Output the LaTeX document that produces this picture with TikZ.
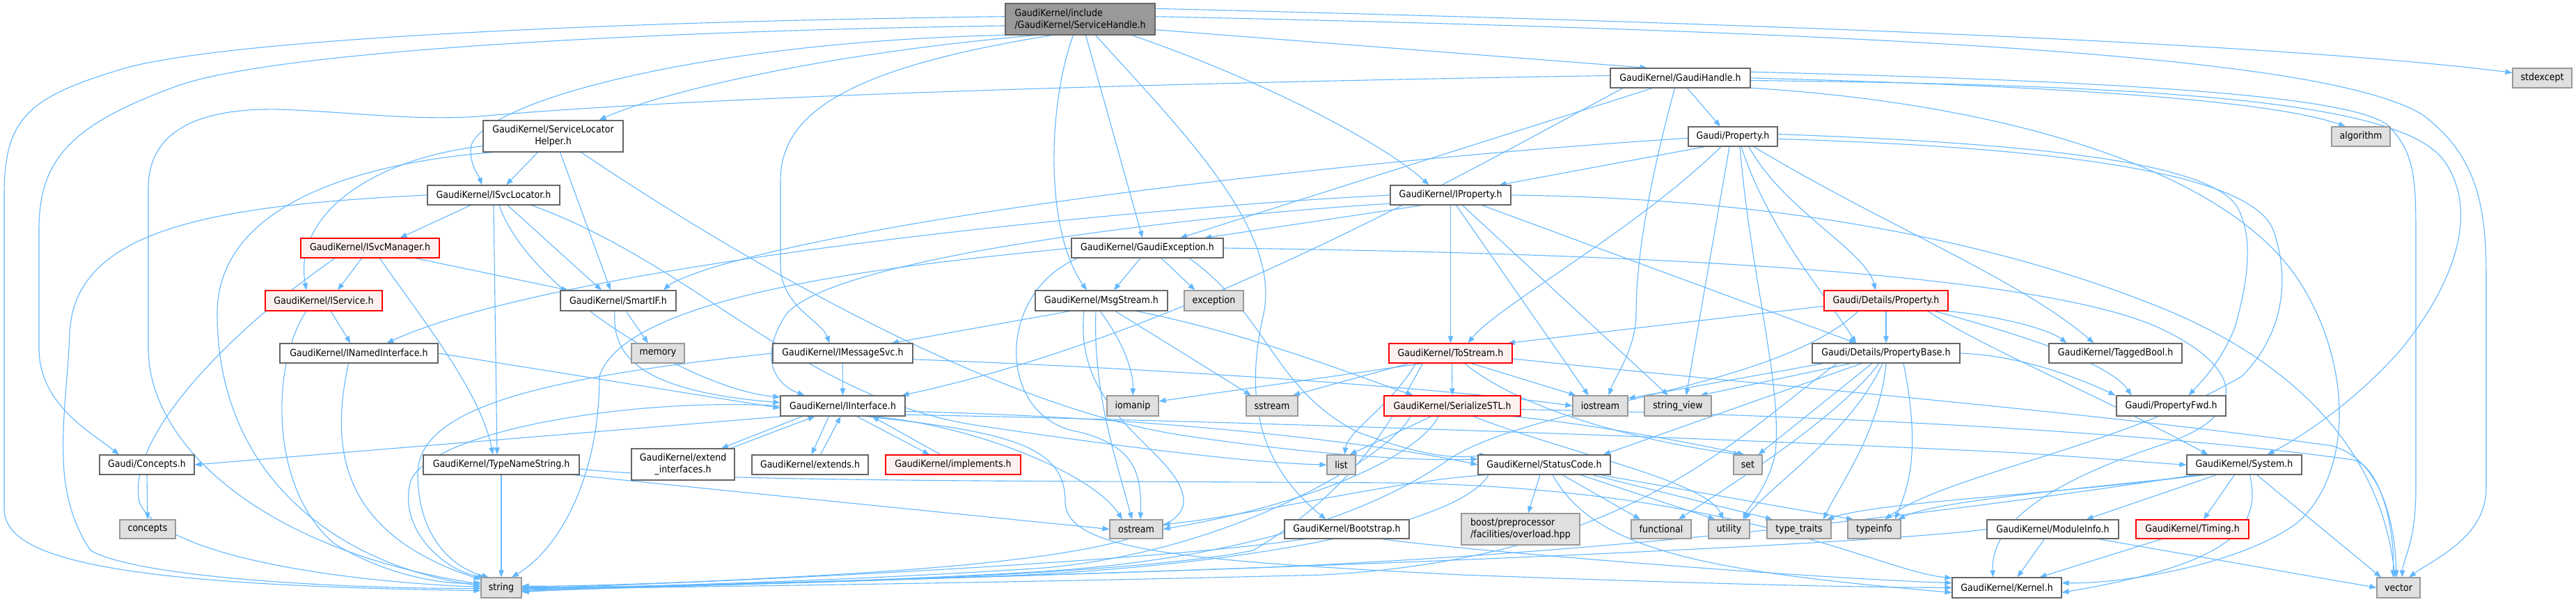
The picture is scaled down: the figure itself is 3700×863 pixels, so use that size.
\documentclass[tikz,border=0pt]{standalone}
\usepackage{fontspec}
\setmainfont{DejaVu Sans}[FakeStretch=0.9]
\usetikzlibrary{arrows.meta}
\definecolor{ecol}{HTML}{63B8FF}
\definecolor{nbord}{HTML}{666666}
\definecolor{xbord}{HTML}{999999}
\definecolor{xfill}{HTML}{E0E0E0}
\definecolor{rfill}{HTML}{FFF0F0}
\definecolor{topfill}{HTML}{999999}
\pgfdeclarelayer{bg}
\pgfsetlayers{bg,main}
\newcommand\gnode[7]{\node[#6, minimum width=#4pt, minimum height=#5pt] (#1) at (#2,#3) {#7};}
\begin{document}
\begin{tikzpicture}[x=1pt,y=-1pt,
  base/.style={inner sep=0pt, line width=1.1pt, font=\fontsize{14}{17}\selectfont, text=black},
  nrm/.style={base, draw=nbord, fill=white},
  ext/.style={base, draw=xbord, fill=xfill},
  red/.style={base, draw=red, fill=rfill},
  topn/.style={base, draw=nbord, fill=topfill},
  lnk/.style={draw=ecol, line width=1.1pt, -{Triangle[length=10pt,width=7.5pt]}}]
\useasboundingbox (0,0) rectangle (3700,863);
% ---------- nodes
\gnode{sh}{1551.5}{27.5}{215}{45}{topn,align=left}{GaudiKernel/include\\/GaudiKernel/ServiceHandle.h}
\gnode{gh}{2413.5}{112}{201}{28}{nrm}{GaudiKernel/GaudiHandle.h}
\gnode{stdexcept}{3651.5}{112}{85}{28}{ext}{stdexcept}
\gnode{slh}{794.5}{195.5}{201}{45}{nrm,align=center}{GaudiKernel/ServiceLocator\\Helper.h}
\gnode{prop}{2489}{196}{128}{28}{nrm}{Gaudi/Property.h}
\gnode{algorithm}{3391}{196}{84}{28}{ext}{algorithm}
\gnode{isl}{709}{280}{190}{28}{nrm}{GaudiKernel/ISvcLocator.h}
\gnode{iprop}{2083.5}{280}{173}{28}{nrm}{GaudiKernel/IProperty.h}
\gnode{ism}{531.5}{356}{199}{28}{red}{GaudiKernel/ISvcManager.h}
\gnode{gex}{1648}{356}{218}{28}{nrm}{GaudiKernel/GaudiException.h}
\gnode{isvc}{465}{431.5}{168}{29}{red}{GaudiKernel/IService.h}
\gnode{smartif}{888}{431.5}{166}{29}{nrm}{GaudiKernel/SmartIF.h}
\gnode{msg}{1582}{431.5}{190}{29}{nrm}{GaudiKernel/MsgStream.h}
\gnode{exception}{1743.5}{431.5}{85}{29}{ext}{exception}
\gnode{dprop}{2709}{431.5}{178}{29}{red}{Gaudi/Details/Property.h}
\gnode{nif}{515.5}{507}{227}{28}{nrm}{GaudiKernel/INamedInterface.h}
\gnode{memory}{945}{507}{76}{28}{ext}{memory}
\gnode{imsg}{1210.5}{507}{201}{28}{nrm}{GaudiKernel/IMessageSvc.h}
\gnode{tostream}{2083.5}{507}{177}{28}{red}{GaudiKernel/ToStream.h}
\gnode{pbase}{2709}{507}{212}{28}{nrm}{Gaudi/Details/PropertyBase.h}
\gnode{tagged}{3038.5}{507}{191}{28}{nrm}{GaudiKernel/TaggedBool.h}
\gnode{iif}{1210.5}{582.5}{179}{29}{nrm}{GaudiKernel/IInterface.h}
\gnode{iomanip}{1627}{582.5}{74}{29}{ext}{iomanip}
\gnode{sstream}{1827}{582.5}{74}{29}{ext}{sstream}
\gnode{sstl}{2086}{582.5}{196}{29}{red}{GaudiKernel/SerializeSTL.h}
\gnode{iostream}{2298.5}{582.5}{79}{29}{ext}{iostream}
\gnode{strview}{2410}{582.5}{96}{29}{ext}{string\_view}
\gnode{pfwd}{3118.5}{582.5}{157}{29}{nrm}{Gaudi/PropertyFwd.h}
\gnode{concepts_h}{211}{667}{136}{28}{nrm}{Gaudi/Concepts.h}
\gnode{tns}{720}{667}{224}{28}{nrm}{GaudiKernel/TypeNameString.h}
\gnode{extif}{981}{666.5}{148}{45}{nrm,align=center}{GaudiKernel/extend\\\_interfaces.h}
\gnode{extends}{1163.5}{667}{167}{28}{nrm}{GaudiKernel/extends.h}
\gnode{implements}{1369}{667}{194}{28}{red}{GaudiKernel/implements.h}
\gnode{list}{1926.5}{667}{41}{28}{ext}{list}
\gnode{sc}{2218}{667}{190}{28}{nrm}{GaudiKernel/StatusCode.h}
\gnode{set}{2510.5}{667}{41}{28}{ext}{set}
\gnode{system}{3223.5}{667}{165}{28}{nrm}{GaudiKernel/System.h}
\gnode{concepts}{212}{759.5}{80}{27}{ext}{concepts}
\gnode{ostream}{1632}{759.5}{76}{27}{ext}{ostream}
\gnode{boot}{1934.5}{759.5}{179}{27}{nrm}{GaudiKernel/Bootstrap.h}
\gnode{boost}{2184}{759.5}{170}{45}{ext,align=left}{boost/preprocessor\\/facilities/overload.hpp}
\gnode{functional}{2386}{759.5}{86}{27}{ext}{functional}
\gnode{utility}{2483.5}{759.5}{59}{27}{ext}{utility}
\gnode{typetraits}{2584}{759.5}{92}{27}{ext}{type\_traits}
\gnode{typeinfo}{2692}{759.5}{76}{27}{ext}{typeinfo}
\gnode{modinfo}{2948.5}{759.5}{189}{27}{nrm}{GaudiKernel/ModuleInfo.h}
\gnode{timing}{3149}{759.5}{162}{27}{red}{GaudiKernel/Timing.h}
\gnode{string}{720}{843.5}{58}{29}{ext}{string}
\gnode{kernel}{2882.5}{843.5}{157}{29}{nrm}{GaudiKernel/Kernel.h}
\gnode{vector}{3445}{843.5}{62}{29}{ext}{vector}
% ---------- edges
\begin{pgfonlayer}{bg}
\fill[white] (0,0) rectangle (3700,863);
% ServiceHandle
\draw[lnk] (sh.178) .. controls (800,32) and (300,60) .. (172,100) .. controls (40,140) and (6,170) .. (6,280) -- (6,730) .. controls (6,800) and (150,840) .. (string.188);
\draw[lnk] (sh.185) .. controls (900,45) and (380,75) .. (250,125) .. controls (100,180) and (56,230) .. (56,330) -- (56,500) .. controls (56,580) and (130,620) .. ([xshift=-40pt]concepts_h.north);
\draw[lnk] (sh.192) .. controls (1000,60) and (676,150) .. (676,215) .. controls (676,240) and (688,252) .. ([xshift=-17pt]isl.north);
\draw[lnk] (sh.200) .. controls (1150,80) and (930,140) .. ([xshift=66pt]slh.north);
\draw[lnk] (sh.210) .. controls (1200,100) and (1121,170) .. (1121,260) -- (1121,380) .. controls (1121,440) and (1180,460) .. ([xshift=-19pt]imsg.north);
\draw[lnk] ([xshift=-10pt]sh.south) .. controls (1505,150) and (1500,330) .. ([xshift=-21pt]msg.north);
\draw[lnk] ([xshift=8pt]sh.south) -- ([xshift=-7pt]gex.north);
\draw[lnk] ([xshift=22pt]sh.south) .. controls (1700,190) and (1840,330) .. (1815,450) .. controls (1790,560) and (1800,660) .. ([xshift=-30pt]boot.north);
\draw[lnk] ([xshift=74pt]sh.south) .. controls (1800,110) and (1980,200) .. ([xshift=-31pt]iprop.north);
\draw[lnk] (sh.-8) -- (gh.163);
\draw[lnk] (sh.8) .. controls (2600,35) and (3300,65) .. (stdexcept.170);
\draw[lnk] (sh.2) .. controls (2800,48) and (3350,85) .. (3480,165) .. controls (3560,225) and (3571,300) .. (3571,400) -- (3571,700) .. controls (3571,770) and (3500,800) .. ([xshift=15pt]vector.north);
% GaudiHandle
\draw[lnk] ([xshift=10pt]gh.south) -- ([xshift=-18pt]prop.north);
\draw[lnk] (gh.east) .. controls (2900,122) and (3250,140) .. ([xshift=-22pt]algorithm.north);
\draw[lnk] (gh.178) .. controls (1600,120) and (1000,140) .. (700,166) .. controls (600,175) and (500,160) .. (400,157) .. controls (290,155) and (213,185) .. (213,270) -- (213,500) .. controls (213,640) and (380,790) .. (string.170);
\draw[lnk] ([xshift=-40pt]gh.south) -- ([xshift=47pt]gex.north);
\draw[lnk] (gh.190) .. controls (2100,250) and (1700,480) .. ([xshift=85pt]iif.north);
\draw[lnk] ([xshift=-8pt]gh.south) .. controls (2380,220) and (2350,350) .. (2350,450) .. controls (2350,500) and (2320,540) .. ([xshift=12pt]iostream.north);
\draw[lnk] (gh.5) .. controls (3100,118) and (3380,140) .. (3430,180) .. controls (3470,220) and (3470,260) .. (3470,350) -- (3470,700) .. controls (3470,780) and (3452,800) .. ([xshift=5pt]vector.north);
\draw[lnk] (gh.-2) .. controls (3150,122) and (3450,150) .. (3510,230) .. controls (3560,300) and (3530,400) .. (3450,500) .. controls (3380,580) and (3300,630) .. ([xshift=33pt]system.north);
\draw[lnk] (gh.-8) .. controls (2900,150) and (3200,250) .. (3300,400) .. controls (3380,520) and (3380,680) .. (3300,750) .. controls (3220,810) and (3050,838) .. (kernel.5);
% ServiceLocatorHelper
\draw[lnk] ([xshift=-22pt]slh.south) -- ([xshift=18pt]isl.north);
\draw[lnk] ([xshift=10pt]slh.south) -- ([xshift=-11pt]smartif.north);
\draw[lnk] (slh.188) .. controls (550,225) and (420,300) .. ([xshift=-25pt]isvc.north);
\draw[lnk] (slh.195) .. controls (500,235) and (312,300) .. (312,450) .. controls (312,680) and (480,810) .. (string.175);
\draw[lnk] ([xshift=40pt]slh.south) .. controls (1000,330) and (1400,580) .. (1700,625) .. controls (1900,655) and (2050,662) .. (sc.175);
% Property
\draw[lnk] (prop.200) -- ([xshift=70pt]iprop.north);
\draw[lnk] ([xshift=23pt]prop.south) .. controls (2560,300) and (2680,360) .. ([xshift=-15pt]dprop.north);
\draw[lnk] ([xshift=12pt]prop.south) .. controls (2540,330) and (2620,420) .. ([xshift=-43pt]pbase.north);
\draw[lnk] ([xshift=30pt]prop.south) .. controls (2700,320) and (2900,400) .. ([xshift=-31pt]tagged.north);
\draw[lnk] (prop.3) .. controls (2900,205) and (3180,230) .. (3215,300) .. controls (3240,350) and (3224,420) .. (3210,470) .. controls (3190,520) and (3160,550) .. ([xshift=25pt]pfwd.north);
\draw[lnk] (prop.-3) .. controls (2900,210) and (3230,240) .. (3265,330) .. controls (3290,400) and (3280,480) .. (3220,540) .. controls (3050,640) and (2800,680) .. ([xshift=15pt]typeinfo.north);
\draw[lnk] ([xshift=-17pt]prop.south) .. controls (2350,330) and (2150,440) .. ([xshift=25pt]tostream.north);
\draw[lnk] (prop.182) .. controls (2000,225) and (1300,300) .. (1020,385) .. controls (990,395) and (965,405) .. ([xshift=65pt]smartif.north);
\draw[lnk] ([xshift=-5pt]prop.south) -- ([xshift=12pt]strview.north);
\draw[lnk] ([xshift=10pt]prop.south) .. controls (2515,400) and (2560,550) .. (2550,650) .. controls (2540,700) and (2510,730) .. ([xshift=20pt]utility.north);
% IProperty
\draw[lnk] (iprop.south) -- (tostream.north);
\draw[lnk] ([xshift=8pt]iprop.south) -- ([xshift=-17pt]iostream.north);
\draw[lnk] ([xshift=17pt]iprop.south) -- ([xshift=-14pt]strview.north);
\draw[lnk] ([xshift=45pt]iprop.south) -- ([xshift=-43pt]pbase.north);
\draw[lnk] (iprop.200) -- ([xshift=82pt]gex.north);
\draw[lnk] (iprop.east) .. controls (2600,285) and (2900,360) .. (3100,440) .. controls (3300,520) and (3420,650) .. ([xshift=-5pt]vector.north);
\draw[lnk] (iprop.180) .. controls (1600,300) and (800,380) .. ([xshift=40pt]nif.north);
\draw[lnk] (iprop.188) .. controls (1700,310) and (1200,370) .. (1130,450) .. controls (1090,510) and (1110,550) .. ([xshift=-55pt]iif.north);
% ISvcLocator
\draw[lnk] ([xshift=-33pt]isl.south) -- ([xshift=43pt]ism.north);
\draw[lnk] ([xshift=20pt]isl.south) -- ([xshift=-24pt]smartif.north);
\draw[lnk] (isl.south) -- ([xshift=-6pt]tns.north);
\draw[lnk] ([xshift=8pt]isl.south) .. controls (760,420) and (1000,560) .. (iif.172);
\draw[lnk] (isl.-15) .. controls (1000,380) and (1150,570) .. (1400,610) .. controls (1600,640) and (1800,665) .. (list.west);
\draw[lnk] (isl.west) .. controls (300,295) and (105,330) .. (100,480) .. controls (95,600) and (70,700) .. (130,790) .. controls (200,830) and (500,845) .. (string.182);
% ISvcManager
\draw[lnk] ([xshift=-12pt]ism.south) -- ([xshift=20pt]isvc.north);
\draw[lnk] ([xshift=65pt]ism.south) -- ([xshift=-72pt]smartif.north);
\draw[lnk] ([xshift=14pt]ism.south) .. controls (600,450) and (690,560) .. ([xshift=-12pt]tns.north);
\draw[lnk] ([xshift=-50pt]ism.south) .. controls (350,460) and (180,620) .. (200,720) .. controls (230,800) and (500,835) .. (string.178);
% IService
\draw[lnk] ([xshift=10pt]isvc.south) -- ([xshift=-12pt]nif.north);
\draw[lnk] ([xshift=-25pt]isvc.south) .. controls (390,520) and (385,700) .. (480,780) .. controls (560,830) and (650,840) .. (string.165);
% SmartIF
\draw[lnk] ([xshift=11pt]smartif.south) -- ([xshift=-14pt]memory.north);
\draw[lnk] ([xshift=-5pt]smartif.south) .. controls (880,500) and (900,560) .. (iif.177);
% INamedInterface
\draw[lnk] (nif.east) -- (iif.182);
\draw[lnk] ([xshift=-15pt]nif.south) .. controls (480,620) and (470,760) .. (string.158);
% GaudiException
\draw[lnk] ([xshift=-10pt]gex.south) -- ([xshift=18pt]msg.north);
\draw[lnk] ([xshift=20pt]gex.south) -- ([xshift=-27pt]exception.north);
\draw[lnk] (gex.west) .. controls (1300,380) and (900,420) .. (861,540) .. controls (861,690) and (800,790) .. ([xshift=15pt]string.north);
\draw[lnk] ([xshift=60pt]gex.south) .. controls (1820,450) and (1830,560) .. (1950,620) .. controls (2030,650) and (2080,660) .. (sc.170);
\draw[lnk] (gex.east) .. controls (2200,362) and (2900,380) .. (3100,470) .. controls (3230,530) and (3230,600) .. (3100,640) .. controls (2920,700) and (2860,760) .. ([xshift=-20pt]kernel.north);
\draw[lnk] ([xshift=-100pt]gex.south) .. controls (1430,420) and (1430,600) .. (1550,620) .. controls (1630,640) and (1640,680) .. ([xshift=6pt]ostream.north);
% MsgStream
\draw[lnk] ([xshift=-45pt]msg.south) -- ([xshift=70pt]imsg.north);
\draw[lnk] ([xshift=-2pt]msg.south) .. controls (1620,500) and (1628,540) .. (iomanip.north);
\draw[lnk] ([xshift=20pt]msg.south) -- ([xshift=-30pt]sstream.north);
\draw[lnk] ([xshift=50pt]msg.south) .. controls (1800,480) and (1950,540) .. ([xshift=-56pt]sstl.north);
\draw[lnk] ([xshift=-8pt]msg.south) .. controls (1570,560) and (1600,650) .. ([xshift=-6pt]ostream.north);
\draw[lnk] ([xshift=-25pt]msg.south) .. controls (1540,600) and (1700,650) .. (1700,720) .. controls (1700,790) and (1400,815) .. (1100,830) .. controls (950,838) and (800,842) .. (string.5);
% IMessageSvc
\draw[lnk] (imsg.south) -- (iif.north);
\draw[lnk] (imsg.-5) .. controls (1700,530) and (2100,560) .. (iostream.west);
\draw[lnk] (imsg.west) .. controls (800,540) and (600,580) .. (600,680) .. controls (600,770) and (650,815) .. ([xshift=-18pt]string.north);
% ToStream
\draw[lnk] (tostream.200) -- (iomanip.10);
\draw[lnk] ([xshift=-60pt]tostream.south) -- ([xshift=30pt]sstream.north);
\draw[lnk] ([xshift=-50pt]tostream.south) .. controls (2000,580) and (1935,620) .. ([xshift=5pt]list.north);
\draw[lnk] ([xshift=2pt]tostream.south) -- (sstl.north);
\draw[lnk] ([xshift=30pt]tostream.south) -- ([xshift=-35pt]iostream.north);
\draw[lnk] ([xshift=20pt]tostream.south) .. controls (2200,600) and (2400,640) .. ([xshift=-10pt]set.north);
\draw[lnk] (tostream.-5) .. controls (2500,550) and (3000,590) .. (3350,640) .. controls (3420,660) and (3440,750) .. ([xshift=-3pt]vector.north);
\draw[lnk] ([xshift=-40pt]tostream.south) .. controls (2000,600) and (1950,700) .. (1800,790) .. controls (1600,830) and (1000,842) .. (string.0);
% SerializeSTL
\draw[lnk] ([xshift=-30pt]sstl.south) -- ([xshift=12pt]list.north);
\draw[lnk] ([xshift=-20pt]sstl.south) .. controls (2040,650) and (1900,720) .. (ostream.east);
\draw[lnk] (sstl.-10) .. controls (2300,610) and (2450,640) .. ([xshift=-5pt]set.north);
\draw[lnk] (sstl.-3) .. controls (2600,595) and (3100,620) .. (3380,660) .. controls (3420,670) and (3440,760) .. ([xshift=-8pt]vector.north);
\draw[lnk] ([xshift=30pt]sstl.south) .. controls (2250,650) and (2450,690) .. ([xshift=-8pt]utility.north);
\draw[lnk] ([xshift=-60pt]sstl.south) .. controls (2000,650) and (1780,790) .. (1500,815) .. controls (1200,835) and (900,842) .. (string.-3);
% PropertyBase
\draw[lnk] ([xshift=-90pt]pbase.south) -- (iostream.15);
\draw[lnk] ([xshift=-50pt]pbase.south) -- (strview.25);
\draw[lnk] ([xshift=-35pt]pbase.south) -- ([xshift=85pt]sc.north);
\draw[lnk] ([xshift=-20pt]pbase.south) -- ([xshift=15pt]set.north);
\draw[lnk] ([xshift=-10pt]pbase.south) .. controls (2640,600) and (2480,700) .. ([xshift=25pt]functional.north);
\draw[lnk] ([xshift=-5pt]pbase.south) .. controls (2660,620) and (2540,700) .. ([xshift=22pt]utility.north);
\draw[lnk] (pbase.south) .. controls (2700,620) and (2640,700) .. ([xshift=35pt]typetraits.north);
\draw[lnk] ([xshift=25pt]pbase.south) .. controls (2760,650) and (2740,700) .. ([xshift=30pt]typeinfo.north);
\draw[lnk] (pbase.east) .. controls (2900,510) and (2980,540) .. ([xshift=-80pt]pfwd.north);
\draw[lnk] ([xshift=-70pt]pbase.south) .. controls (2500,620) and (2350,800) .. (1900,825) .. controls (1400,838) and (900,843) .. (string.-5);
% Details/Property
\draw[lnk] (dprop.185) -- (tostream.10);
\draw[lnk] (dprop.south) -- (pbase.north);
\draw[lnk] (dprop.-10) .. controls (2850,450) and (2940,470) .. ([xshift=-70pt]tagged.north);
\draw[lnk] ([xshift=70pt]dprop.south) .. controls (2900,480) and (3030,520) .. ([xshift=-57pt]pfwd.north);
\draw[lnk] ([xshift=60pt]dprop.south) .. controls (2850,500) and (3000,560) .. ([xshift=-52pt]system.north);
\draw[lnk] ([xshift=-40pt]dprop.south) .. controls (2550,560) and (2200,580) .. (2080,660) .. controls (1980,730) and (1800,800) .. (1500,820) .. controls (1200,838) and (900,843) .. (string.2);
% IInterface
\draw[lnk] (iif.190) -- (concepts_h.east);
\draw[lnk] ([xshift=-58pt]iif.south) -- ([xshift=55pt]extif.north);
\draw[lnk] ([xshift=68pt]extif.north) -- ([xshift=-40pt]iif.south);
\draw[lnk] ([xshift=-20pt]iif.south) -- ([xshift=2pt]extends.north);
\draw[lnk] ([xshift=15pt]extends.north) -- ([xshift=-3pt]iif.south);
\draw[lnk] ([xshift=20pt]iif.south) -- ([xshift=-34pt]implements.north);
\draw[lnk] ([xshift=-18pt]implements.north) -- ([xshift=42pt]iif.south);
\draw[lnk] (iif.-5) .. controls (1700,600) and (2000,640) .. (sc.180);
\draw[lnk] (iif.-8) .. controls (1800,605) and (2500,630) .. (2900,650) .. controls (3050,660) and (3100,665) .. (system.west);
\draw[lnk] (iif.-20) .. controls (1400,610) and (1570,680) .. ([xshift=-20pt]ostream.north);
\draw[lnk] (iif.west) .. controls (900,570) and (620,620) .. (590,690) .. controls (570,760) and (640,820) .. ([xshift=-24pt]string.north);
\draw[lnk] (iif.-25) .. controls (1450,620) and (1530,640) .. (1530,720) .. controls (1530,790) and (1700,805) .. (2100,825) .. controls (2500,840) and (2700,843) .. (kernel.180);
% StatusCode
\draw[lnk] ([xshift=-6pt]sc.south) -- ([xshift=11pt]boost.north);
\draw[lnk] ([xshift=26pt]sc.south) -- ([xshift=-30pt]functional.north);
\draw[lnk] ([xshift=52pt]sc.south) -- ([xshift=-20pt]utility.north);
\draw[lnk] ([xshift=69pt]sc.south) -- ([xshift=-38pt]typetraits.north);
\draw[lnk] ([xshift=80pt]sc.south) -- ([xshift=-30pt]typeinfo.north);
\draw[lnk] ([xshift=12pt]sc.south) .. controls (2290,790) and (2450,820) .. (kernel.185);
\draw[lnk] (sc.190) .. controls (2000,690) and (1800,740) .. (ostream.10);
\draw[lnk] ([xshift=-80pt]sc.south) .. controls (2100,750) and (1800,815) .. (1400,828) .. controls (1100,838) and (850,843) .. (string.-8);
% System
\draw[lnk] ([xshift=-40pt]system.south) -- ([xshift=48pt]modinfo.north);
\draw[lnk] ([xshift=-14pt]system.south) -- ([xshift=16pt]timing.north);
\draw[lnk] ([xshift=18pt]system.south) -- ([xshift=-25pt]vector.north);
\draw[lnk] ([xshift=8pt]system.south) .. controls (3250,760) and (3200,810) .. (kernel.-5);
\draw[lnk] ([xshift=-60pt]system.south) .. controls (2950,710) and (2700,720) .. ([xshift=40pt]typetraits.north);
\draw[lnk] ([xshift=-55pt]system.south) .. controls (2950,705) and (2780,720) .. ([xshift=34pt]typeinfo.north);
\draw[lnk] ([xshift=-70pt]system.south) .. controls (2900,720) and (2400,790) .. (1800,815) .. controls (1300,833) and (900,843) .. (string.-10);
% ModuleInfo, Timing, Bootstrap, TypeNameString, Concepts
\draw[lnk] ([xshift=-12pt]modinfo.south) -- ([xshift=15pt]kernel.north);
\draw[lnk] ([xshift=65pt]modinfo.south) -- (vector.west);
\draw[lnk] (modinfo.west) .. controls (2700,780) and (2000,810) .. (1500,825) .. controls (1100,837) and (850,843) .. (string.-12);
\draw[lnk] ([xshift=-44pt]timing.south) -- ([xshift=47pt]kernel.north);
\draw[lnk] ([xshift=50pt]boot.south) .. controls (2100,790) and (2600,830) .. (kernel.175);
\draw[lnk] ([xshift=-60pt]boot.south) .. controls (1700,800) and (1200,830) .. (string.-2);
\draw[lnk] (tns.south) -- (string.north);
\draw[lnk] (tns.-8) .. controls (1000,700) and (1400,740) .. (ostream.west);
\draw[lnk] (tns.-3) .. controls (1000,693) and (1600,690) .. (2000,693) .. controls (2500,700) and (2700,820) .. (kernel.170);
\draw[lnk] (concepts_h.south) -- (concepts.north);
\end{pgfonlayer}
\end{tikzpicture}
\end{document}
